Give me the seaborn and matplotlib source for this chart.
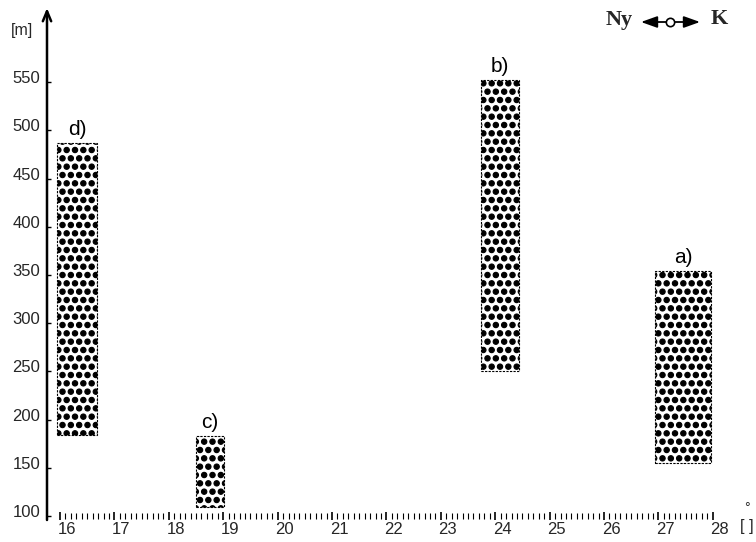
import numpy as np
import pandas as pd
import matplotlib
matplotlib.use("Agg")
import matplotlib.pyplot as plt
import matplotlib.hatch as mhatch
import matplotlib.transforms as mtransforms
from matplotlib.patches import FancyArrowPatch
from matplotlib.lines import Line2D
from matplotlib.ticker import FixedLocator, NullFormatter
import seaborn as sns

# ---------------- data ----------------
labels = ["d)", "c)", "b)", "a)"]
x_left = [15.95, 18.50, 23.74, 26.94]
x_right = [16.68, 19.02, 24.44, 27.97]
y_bottom = [184, 109, 250, 155]
y_top = [487, 183, 552, 354]

x_ticks = [16, 17, 18, 19, 20, 21, 22, 23, 24, 25, 26, 27, 28]
y_ticks = [100, 150, 200, 250, 300, 350, 400, 450, 500, 550]
y_unit = "[m]"
x_unit = "[ ]"
legend_left = "Ny"
legend_right = "K"

# ---------------- style ----------------
sns.set_theme(style="white")
plt.rcParams["font.family"] = ["Liberation Sans", "DejaVu Sans"]
plt.rcParams["hatch.linewidth"] = 0.8
plt.rcParams["hatch.color"] = "black"
mhatch.SmallFilledCircles.size = 0.32

W, H = 756, 542
fig = plt.figure(figsize=(W / 100, H / 100), dpi=100)
ax = fig.add_axes([47 / W, 26 / H, 699 / W, 482 / H])

df = pd.DataFrame({
    "center": [(l + r) / 2 for l, r in zip(x_left, x_right)],
    "width": [r - l for l, r in zip(x_left, x_right)],
    "left": x_left,
    "bottom": y_bottom,
    "height": [t - b for t, b in zip(y_top, y_bottom)],
    "top": y_top,
    "label": labels,
}).sort_values("center").reset_index(drop=True)

sns.barplot(data=df, x="center", y="height", native_scale=True,
            color="white", errorbar=None, saturation=1, ax=ax)

for p, (_, row) in zip(ax.patches, df.iterrows()):
    p.set_x(row["left"])
    p.set_width(row["width"])
    p.set_y(row["bottom"])
    p.set_height(row["height"])
    p.set_facecolor("white")
    p.set_edgecolor("black")
    p.set_linewidth(0.8)
    p.set_linestyle((0, (2, 1.2)))
    p.set_hatch("..")

for _, row in df.iterrows():
    ax.annotate(row["label"], xy=(row["center"], row["top"]), xytext=(0, 3),
                textcoords="offset points", ha="center", va="bottom",
                fontsize=15, color="black")

ax.set_xlim(15.76, 28.61)
ax.set_ylim(100, 600)
ax.set_xlabel("")
ax.set_ylabel("")
for s in ax.spines.values():
    s.set_visible(False)

# x ruler
ax.xaxis.set_major_locator(FixedLocator(x_ticks))
ax.set_xticklabels([str(t) for t in x_ticks])
ax.xaxis.set_minor_locator(FixedLocator(np.arange(x_ticks[0], x_ticks[-1] + 0.001, 0.1)))
ax.xaxis.set_minor_formatter(NullFormatter())
ax.tick_params(axis="x", which="major", direction="inout", length=6, width=1.2,
               color="black", labelsize=12, pad=1, bottom=True)
ax.tick_params(axis="x", which="minor", direction="inout", length=4, width=0.8,
               color="black", bottom=True)
offx = mtransforms.ScaledTranslation(7 / 100, 0, fig.dpi_scale_trans)
for lab in ax.get_xticklabels():
    lab.set_transform(lab.get_transform() + offx)

# y axis
ax.set_yticks(y_ticks)
ax.set_yticklabels([str(t) for t in y_ticks])
ax.tick_params(axis="y", which="major", direction="in", length=3, width=1.0,
               color="black", labelsize=12, pad=5, left=True)
offy = mtransforms.ScaledTranslation(0, 5 / 100, fig.dpi_scale_trans)
for lab in ax.get_yticklabels():
    lab.set_transform(lab.get_transform() + offy)

ax.annotate("", xy=(0, (516 - 8) / 482), xycoords="axes fraction",
            xytext=(0, -4 / 482), textcoords="axes fraction",
            arrowprops=dict(arrowstyle="->,head_length=0.6,head_width=0.25",
                            lw=1.8, color="black", shrinkA=0, shrinkB=0),
            annotation_clip=False)

# units
fig.text(22 / W, 1 - 31 / H, y_unit, ha="center", va="center", fontsize=11.5)
fig.text(747 / W, 1 - 527 / H, x_unit, ha="center", va="center", fontsize=12)
fig.text(747 / W, 1 - 508 / H, "°", ha="center", va="center", fontsize=10)

# legend top right
serif = ["Liberation Serif", "DejaVu Serif"]
fig.text(619 / W, 1 - 20 / H, legend_left, ha="center", va="center",
         fontsize=16, fontweight="bold", family=serif)
fig.text(719 / W, 1 - 19 / H, legend_right, ha="center", va="center",
         fontsize=16, fontweight="bold", family=serif)
arr = FancyArrowPatch(posA=(641 / W, 1 - 22 / H), posB=(700 / W, 1 - 22 / H),
                      arrowstyle="<|-|>,head_length=0.7,head_width=0.25",
                      mutation_scale=14, lw=1.3,
                      color="black", transform=fig.transFigure,
                      shrinkA=0, shrinkB=0)
fig.add_artist(arr)
fig.add_artist(Line2D([670 / W], [1 - 22 / H], marker="o", markersize=6,
                      markerfacecolor="white", markeredgecolor="black",
                      markeredgewidth=1.2, transform=fig.transFigure))

fig.savefig("out.png", dpi=100, facecolor="white")
